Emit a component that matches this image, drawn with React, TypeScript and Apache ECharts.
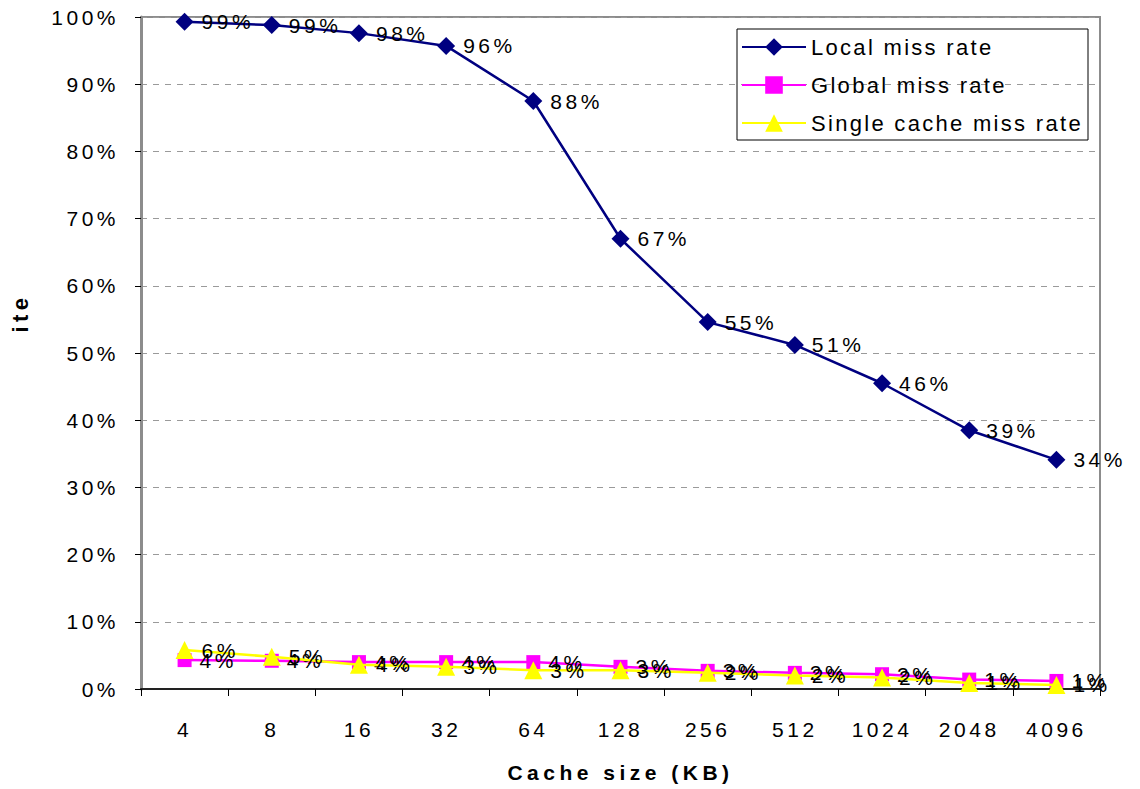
import React, { useEffect, useRef } from "react";
import * as echarts from "echarts";

const categories = ["4", "8", "16", "32", "64", "128", "256", "512", "1024", "2048", "4096"];
const localMiss = [99.3, 98.8, 97.6, 95.7, 87.5, 67.0, 54.6, 51.2, 45.5, 38.5, 34.1];
const globalMiss = [4.3, 4.2, 4.0, 4.0, 4.0, 3.3, 2.7, 2.4, 2.2, 1.4, 1.2];
const singleMiss = [5.8, 4.8, 3.6, 3.3, 2.8, 2.8, 2.4, 2.0, 1.7, 0.9, 0.6];
const seriesNames = ["Local miss rate", "Global miss rate", "Single cache miss rate"];
const xTitle = "Cache size (KB)";
const yTitle = "ite";

const FONT = "Liberation Sans, Arial, Helvetica, sans-serif";

export default function App() {
  const ref = useRef<HTMLDivElement>(null);
  useEffect(() => {
    document.body.style.margin = "0";
    const chart = echarts.init(ref.current!, null, { renderer: "svg" });
    const label = {
      show: true,
      position: "right" as const,
      distance: 8,
      color: "#000",
      fontSize: 21,
      fontFamily: FONT,
      formatter: (p: any) => `${Math.round(p.value)}%`,
    };
    chart.setOption({
      animation: false,
      backgroundColor: "#fff",
      textStyle: { fontFamily: FONT },
      grid: {
        left: 141,
        right: 40,
        top: 17,
        bottom: 100,
        outerBoundsMode: "none",
        containLabel: false,
        show: true,
        borderColor: "#8c8c8c",
        borderWidth: 2,
        backgroundColor: "#fff",
      },
      legend: {
        orient: "vertical",
        left: 741,
        top: 36,
        itemWidth: 64,
        itemHeight: 22,
        itemGap: 16,
        padding: 0,
        textStyle: { fontSize: 22, color: "#000", fontFamily: FONT },
        data: seriesNames,
      },
      graphic: [
        {
          type: "rect",
          shape: { x: 737, y: 29, width: 351, height: 111 },
          style: { fill: "none", stroke: "#000", lineWidth: 1 },
          z: 100,
        },
        {
          type: "text",
          x: 20,
          y: 313,
          rotation: Math.PI / 2,
          style: {
            text: yTitle,
            fontSize: 22,
            fontWeight: "bold",
            fill: "#000",
            fontFamily: FONT,
            align: "center",
            verticalAlign: "middle",
          },
        },
      ],
      xAxis: {
        type: "category",
        data: categories,
        boundaryGap: true,
        name: xTitle,
        nameLocation: "middle",
        nameGap: 73,
        nameTextStyle: { fontSize: 21, fontWeight: "bold", color: "#000", fontFamily: FONT },
        axisLine: { lineStyle: { color: "#222", width: 2 } },
        axisTick: { show: true, length: 7, alignWithLabel: false, lineStyle: { color: "#000" } },
        axisLabel: { fontSize: 21, color: "#000", margin: 30, fontFamily: FONT },
        splitLine: { show: false },
      },
      yAxis: {
        type: "value",
        min: 0,
        max: 100,
        interval: 10,
        axisLine: { show: true, lineStyle: { color: "#8c8c8c", width: 3 } },
        axisTick: { show: true, length: 6, lineStyle: { color: "#000" } },
        axisLabel: { fontSize: 21, color: "#000", margin: 22, formatter: (v: number) => `${v}%`, fontFamily: FONT },
        splitLine: { show: true, lineStyle: { color: "#9a9a9a", type: [6, 6], width: 1 } },
      },
      series: [
        {
          name: seriesNames[0],
          type: "line",
          data: localMiss,
          symbol: "diamond",
          symbolSize: 18,
          itemStyle: { color: "#000080" },
          lineStyle: { color: "#000080", width: 2.5 },
          label,
          z: 3,
        },
        {
          name: seriesNames[1],
          type: "line",
          data: globalMiss,
          symbol: "rect",
          symbolSize: 14,
          itemStyle: { color: "#ff00ff" },
          lineStyle: { color: "#ff00ff", width: 2.5 },
          label,
          z: 4,
        },
        {
          name: seriesNames[2],
          type: "line",
          data: singleMiss,
          symbol: "triangle",
          symbolSize: 18,
          itemStyle: { color: "#ffff00" },
          lineStyle: { color: "#ffff00", width: 2.5 },
          label,
          z: 5,
        },
      ],
    });
    return () => chart.dispose();
  }, []);
  return (
    <>
      <style>{"#chartbox text{letter-spacing:3.5px} #chartbox text[style*='22px']{letter-spacing:2.3px} #chartbox text[style*='bold']{letter-spacing:4.5px}"}</style>
      <div id="chartbox" ref={ref} style={{ width: 1140, height: 789 }} />
    </>
  );
}
